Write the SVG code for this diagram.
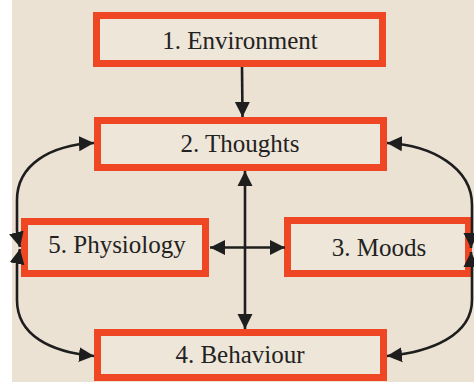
<svg xmlns="http://www.w3.org/2000/svg" width="474" height="382" viewBox="0 0 474 382">
<style>
.box{fill:#eee6d9;stroke:#ef4624;stroke-width:7}
.lbl{font-family:"Liberation Serif","Times New Roman",serif;font-size:25px;fill:#222;text-anchor:middle}
.con{fill:none;stroke:#1e1e1e;stroke-width:2.6}
</style>
<defs>
<marker id="ah" markerUnits="userSpaceOnUse" markerWidth="16" markerHeight="16" viewBox="0 0 16 16" refX="15" refY="8" orient="auto-start-reverse">
<path d="M0,0.5 L15,8 L0,15.5 z" fill="#1e1e1e"/>
</marker>
</defs>
<rect x="0" y="0" width="474" height="382" fill="#ffffff"/>
<rect x="12" y="0" width="462" height="382" fill="#ebe2d3"/>
<g id="n1"><rect class="box" x="96.5" y="15.5" width="286" height="48"/><text class="lbl" x="240" y="49">1. Environment</text></g>
<g id="n2"><rect class="box" x="97.5" y="120.5" width="286" height="47"/><text class="lbl" x="240" y="152">2. Thoughts</text></g>
<g id="n5"><rect class="box" x="24.5" y="221.5" width="181" height="52"/><text class="lbl" x="117" y="253">5. Physiology</text></g>
<g id="n3"><rect class="box" x="287.5" y="220.5" width="181" height="53"/><text class="lbl" x="379" y="256">3. Moods</text></g>
<g id="n4"><rect class="box" x="97.5" y="332.5" width="286" height="45"/><text class="lbl" x="240" y="363">4. Behaviour</text></g>
<g id="connectors">
<path class="con" d="M242,67 L242.5,117" marker-end="url(#ah)"/>
<path class="con" d="M245,171 L245,329" marker-start="url(#ah)" marker-end="url(#ah)"/>
<path class="con" d="M210,247.5 L285,247.5" marker-start="url(#ah)" marker-end="url(#ah)"/>
<path class="con" d="M94,143 C50,145 17,165 17,200 L17,230 C17,238 19,243 20,247" marker-start="url(#ah)" marker-end="url(#ah)"/>
<path class="con" d="M20,249 C19,254 17,258 17,265 L17,300 C17,335 50,352 94,356" marker-start="url(#ah)" marker-end="url(#ah)"/>
<path class="con" d="M387,143 C432,145 472,168 472,205 L472,232 C472,239 471,244 471,248" marker-start="url(#ah)" marker-end="url(#ah)"/>
<path class="con" d="M471,252 C471,256 472,260 472,266 L472,300 C472,335 432,352 387,356" marker-start="url(#ah)" marker-end="url(#ah)"/>
</g>
</svg>
